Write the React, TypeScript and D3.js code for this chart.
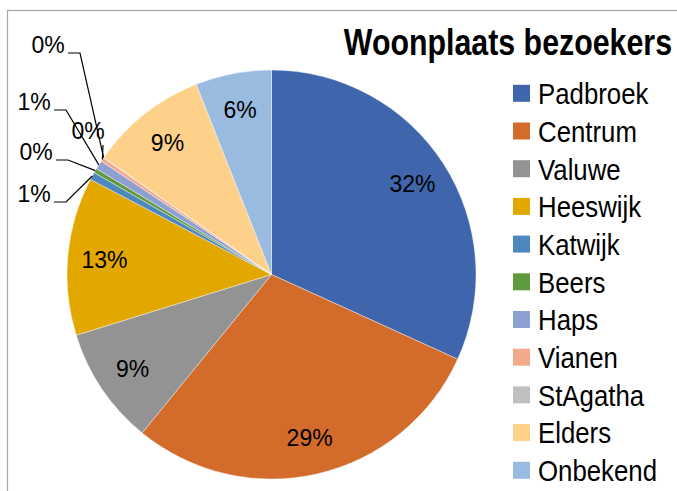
import { useEffect, useRef } from 'react'
import * as d3 from 'd3'

// Woonplaats bezoekers (percentages)
const categories = ['Padbroek', 'Centrum', 'Valuwe', 'Heeswijk', 'Katwijk', 'Beers', 'Haps', 'Vianen', 'StAgatha', 'Elders', 'Onbekend']
const shares = [31.8, 29.1, 9.3, 12.5, 0.6, 0.35, 0.7, 0.3, 0.05, 9.3, 6.0]
const labels = ['32%', '29%', '9%', '13%', '1%', '0%', '1%', '0%', '0%', '9%', '6%']
const colors = ['#3F65AD', '#D36B2A', '#939393', '#E2A800', '#4E87BE', '#5F9A3C', '#8EA0D2', '#F2A98C', '#BFBFBF', '#FED18A', '#9ABBE0']
const title = 'Woonplaats bezoekers'

// where the small-slice labels were dragged to (label centre)
const outsideLabels: Record<string, [number, number]> = {
  Katwijk: [34, 194],
  Beers: [36, 152],
  Haps: [34, 102],
  Vianen: [88, 131],
  StAgatha: [48, 45],
}

interface Slice {
  name: string
  value: number
  label: string
  color: string
}

export default function App() {
  const svgRef = useRef<SVGSVGElement>(null)
  const width = 677
  const height = 491

  useEffect(() => {
    if (!svgRef.current) return
    const svg = d3.select(svgRef.current)
    svg.selectAll('*').remove()

    const data: Slice[] = categories.map((name, i) => ({
      name, value: shares[i], label: labels[i], color: colors[i]
    }))

    const cx = 271.5
    const cy = 274.5
    const radius = 204.5

    // chart frame
    svg.append('rect')
      .attr('x', 7.5).attr('y', 10.5)
      .attr('width', width + 20).attr('height', height + 20)
      .attr('fill', '#fff')
      .attr('stroke', '#a6a6a6')
      .attr('stroke-width', 1.2)

    const pie = d3.pie<Slice>().value(d => d.value).sort(null)
    const arcs = pie(data)
    const arc = d3.arc<d3.PieArcDatum<Slice>>().innerRadius(0).outerRadius(radius)
    const labelArc = d3.arc<d3.PieArcDatum<Slice>>().innerRadius(radius * 0.82).outerRadius(radius * 0.82)
    const edgeArc = d3.arc<d3.PieArcDatum<Slice>>().innerRadius(radius).outerRadius(radius)

    const g = svg.append('g').attr('transform', `translate(${cx},${cy})`)

    g.selectAll('path.slice')
      .data(arcs)
      .enter().append('path')
      .attr('class', 'slice')
      .attr('d', arc)
      .attr('fill', d => d.data.color)
      .attr('stroke', '#fff')
      .attr('stroke-width', 0.4)

    const labelFont = 'Liberation Sans, Arial, sans-serif'

    // labels inside the big slices
    arcs.filter(d => !outsideLabels[d.data.name]).forEach(d => {
      const [x, y] = labelArc.centroid(d)
      svg.append('text')
        .attr('x', cx + x).attr('y', cy + y)
        .attr('text-anchor', 'middle')
        .attr('dy', '0.36em')
        .attr('font-family', labelFont)
        .attr('font-size', 23)
        .attr('fill', '#000')
        .text(d.data.label)
    })

    // labels for the small slices, with leader lines
    arcs.filter(d => outsideLabels[d.data.name]).forEach(d => {
      const [lx, ly] = outsideLabels[d.data.name]
      const [ex, ey] = edgeArc.centroid(d)
      const px = ex + cx
      const py = ey + cy
      if (d.data.name === 'Vianen') {
        svg.append('line')
          .attr('x1', lx + 15).attr('y1', ly + 14)
          .attr('x2', px).attr('y2', py)
          .attr('stroke', '#000').attr('stroke-width', 1.2)
      } else {
        const hx = lx + 20
        const hy = ly + 8
        svg.append('polyline')
          .attr('points', `${hx},${hy} ${hx + 12},${hy} ${px},${py}`)
          .attr('fill', 'none')
          .attr('stroke', '#000').attr('stroke-width', 1.2)
      }
      svg.append('text')
        .attr('x', lx).attr('y', ly)
        .attr('text-anchor', 'middle')
        .attr('dy', '0.36em')
        .attr('font-family', labelFont)
        .attr('font-size', 23)
        .attr('fill', '#000')
        .text(d.data.label)
    })

    // title, narrow bold
    svg.append('text')
      .attr('transform', 'translate(672,55) scale(0.82,1)')
      .attr('text-anchor', 'end')
      .attr('font-family', labelFont)
      .attr('font-weight', 'bold')
      .attr('font-size', 37)
      .attr('fill', '#000')
      .text(title)

    // legend
    const rowScale = d3.scalePoint<string>()
      .domain(categories)
      .range([93.3, 470.3])

    const rows = svg.append('g').selectAll('g.row')
      .data(data)
      .enter().append('g')
      .attr('class', 'row')
      .attr('transform', d => `translate(513,${rowScale(d.name)})`)

    rows.append('rect')
      .attr('x', 0).attr('y', -8.5)
      .attr('width', 17).attr('height', 17)
      .attr('fill', d => d.color)

    // narrow legend type: Arial squeezed horizontally
    rows.append('text')
      .attr('transform', 'translate(25,0) scale(0.86,1)')
      .attr('dy', '0.36em')
      .attr('font-family', labelFont)
      .attr('font-size', 30)
      .attr('fill', '#000')
      .text(d => d.name)
  }, [])

  return (
    <svg
      ref={svgRef}
      width={width}
      height={height}
      style={{ position: 'absolute', left: 0, top: 0, background: '#fff' }}
    />
  )
}
